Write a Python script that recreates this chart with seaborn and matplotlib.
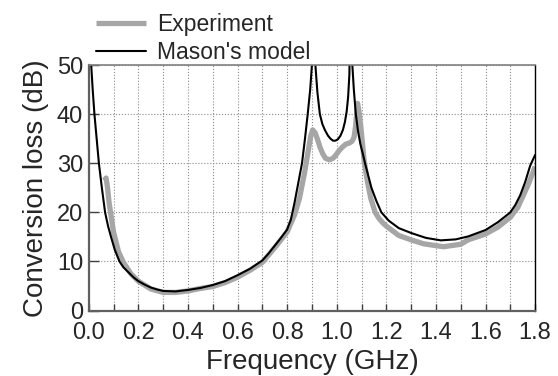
import numpy as np
import pandas as pd
import matplotlib
matplotlib.use("Agg")
import matplotlib.pyplot as plt
from matplotlib.ticker import MultipleLocator
import seaborn as sns

exp_freq = [0.063, 0.070, 0.076, 0.082, 0.088, 0.100, 0.120, 0.140, 0.170, 0.200,
            0.250, 0.300, 0.350, 0.400, 0.450, 0.500, 0.550, 0.600, 0.650, 0.700,
            0.750, 0.800, 0.830, 0.850, 0.870, 0.885, 0.895, 0.903, 0.913, 0.923,
            0.933, 0.943, 0.955, 0.970, 0.985, 0.997, 1.010, 1.023, 1.037, 1.050,
            1.062, 1.070, 1.076, 1.081, 1.084, 1.090, 1.097, 1.104, 1.110, 1.123,
            1.137, 1.155, 1.170, 1.185, 1.200, 1.250, 1.300, 1.350, 1.430, 1.500,
            1.530, 1.600, 1.650, 1.700, 1.730, 1.750, 1.775, 1.800]
exp_loss = [26.5, 27.0, 25.0, 22.0, 20.0, 16.0, 12.0, 9.8, 7.5, 6.0,
            4.4, 3.7, 3.7, 4.0, 4.5, 4.9, 5.7, 6.8, 8.2, 9.8,
            12.8, 16.0, 19.5, 22.9, 28.0, 32.5, 35.5, 36.8, 36.2, 34.8,
            33.2, 32.0, 31.0, 30.7, 31.0, 31.7, 32.6, 33.3, 33.9, 34.1,
            34.5, 35.3, 37.5, 40.5, 42.2, 40.5, 37.5, 34.0, 30.7, 26.5,
            22.9, 20.0, 18.8, 17.9, 17.2, 15.3, 14.4, 13.6, 13.0, 13.5,
            14.4, 15.6, 17.0, 19.0, 21.0, 23.2, 26.0, 29.3]

# Mason's model (goes off scale at the two resonances)
model_freq = [0.005, 0.010, 0.016, 0.023, 0.032, 0.041, 0.053, 0.066, 0.078, 0.090,
              0.105, 0.124, 0.140, 0.160, 0.180, 0.200, 0.225, 0.250, 0.275, 0.300,
              0.350, 0.400, 0.450, 0.500, 0.550, 0.600, 0.650, 0.700, 0.725, 0.750,
              0.775, 0.800, 0.815, 0.830, 0.845, 0.860, 0.872, 0.883, 0.893, 0.900,
              0.907, 0.914, 0.922, 0.932, 0.942, 0.952, 0.965, 0.975, 0.985, 0.995,
              1.005, 1.015, 1.025, 1.033, 1.040, 1.046, 1.051, 1.057, 1.063, 1.069,
              1.077, 1.086, 1.095, 1.105, 1.114, 1.127, 1.140, 1.160, 1.180, 1.210,
              1.250, 1.300, 1.360, 1.420, 1.480, 1.530, 1.600, 1.650, 1.700, 1.720,
              1.740, 1.760, 1.780, 1.800]
model_loss = [60.0, 50.0, 45.0, 40.0, 35.0, 30.0, 25.0, 20.0, 17.2, 15.0,
              12.4, 10.0, 8.8, 7.8, 6.8, 6.0, 5.3, 4.7, 4.3, 4.0,
              3.9, 4.2, 4.6, 5.2, 6.0, 7.2, 8.5, 10.2, 11.6, 13.2,
              14.8, 16.5, 18.5, 22.0, 26.0, 30.0, 35.0, 40.0, 45.0, 50.0,
              70.0, 50.0, 44.5, 40.0, 38.0, 36.8, 35.6, 35.0, 34.6, 34.6,
              34.9, 35.6, 36.8, 38.4, 40.5, 43.5, 48.0, 70.0, 50.0, 45.0,
              40.0, 36.5, 34.0, 32.0, 30.0, 27.5, 25.0, 22.3, 20.0, 18.3,
              16.8, 15.8, 14.8, 14.3, 14.5, 15.1, 16.4, 18.0, 20.0, 21.5,
              23.5, 26.2, 29.5, 31.7]

exp_df = pd.DataFrame({"freq": exp_freq, "loss": exp_loss})
model_df = pd.DataFrame({"freq": model_freq, "loss": model_loss})

sns.set_style("white")
plt.rcParams["font.family"] = ["Liberation Sans", "DejaVu Sans"]

fig = plt.figure(figsize=(5.58, 3.76), dpi=100)
ax = fig.add_axes([0.159, 0.174, 0.800, 0.653])

sns.lineplot(data=exp_df, x="freq", y="loss", ax=ax, color="#a6a6a6",
             linewidth=3.8, label="Experiment", solid_capstyle="butt")
sns.lineplot(data=model_df, x="freq", y="loss", ax=ax, color="black",
             linewidth=1.5, label="Mason's model")

ax.set_xlim(0, 1.8)
ax.set_ylim(0, 50)
ax.xaxis.set_minor_locator(MultipleLocator(0.1))
ax.yaxis.set_major_locator(MultipleLocator(10))
ax.set_xticks(np.arange(0, 1.81, 0.2))
ax.set_xticklabels([f"{v:.1f}" for v in np.arange(0, 1.81, 0.2)])

ax.grid(True, which="both", axis="x", linestyle=":", color="#8c8c8c", linewidth=0.8)
ax.grid(True, which="major", axis="y", linestyle=":", color="#8c8c8c", linewidth=0.8)

ax.tick_params(axis="x", which="both", direction="in", length=5, width=1,
               color="#404040", labelsize=17, pad=8.5, bottom=True)
ax.tick_params(axis="y", which="major", direction="in", length=7, width=1,
               color="#404040", labelsize=17, pad=4, left=True)

for side in ["left", "bottom"]:
    ax.spines[side].set_color("#606060")
    ax.spines[side].set_linewidth(1.6)
ax.spines["top"].set_color("#808080")
ax.spines["top"].set_linewidth(1.2)
ax.spines["right"].set_color("black")
ax.spines["right"].set_linewidth(1.0)

ax.set_xlabel("Frequency (GHz)", fontsize=20, labelpad=3)
ax.set_ylabel("Conversion loss (dB)", fontsize=20, labelpad=6)

ax.legend(loc="upper left", bbox_to_anchor=(0.172, 0.965),
          bbox_transform=fig.transFigure, frameon=False, fontsize=16.5,
          handlelength=2.2, handletextpad=0.45, labelspacing=0.2,
          borderpad=0, borderaxespad=0)

fig.savefig("out.png", dpi=100)
